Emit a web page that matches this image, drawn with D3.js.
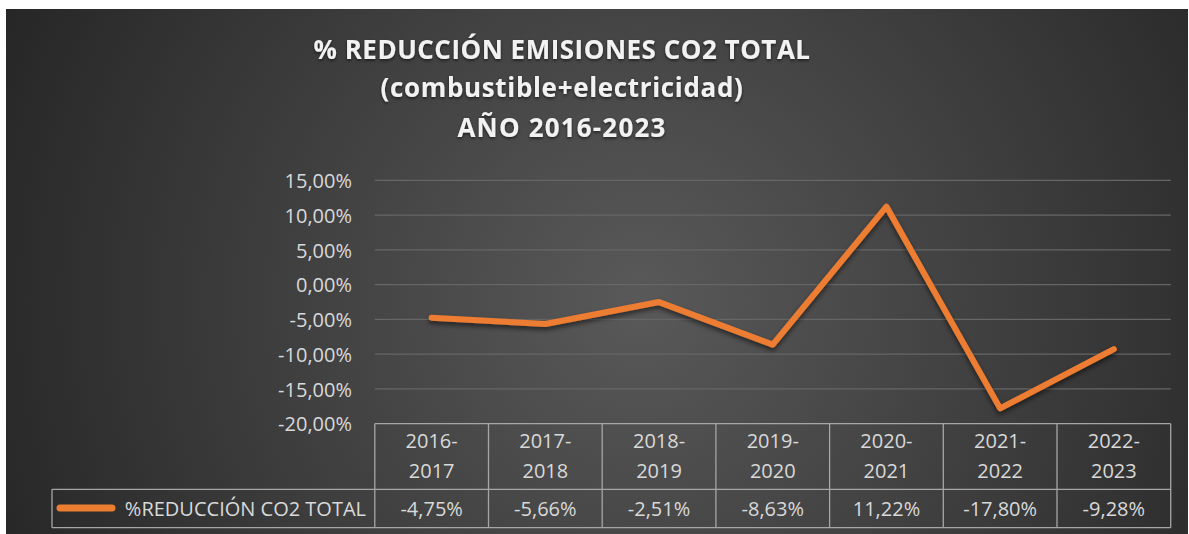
<!DOCTYPE html>
<html>
<head>
<meta charset="utf-8">
<script src="https://cdn.jsdelivr.net/npm/d3@7"></script>
<style>
  html, body { margin: 0; padding: 0; background: #ffffff; }
  svg { display: block; }
</style>
</head>
<body>
<svg id="chart" width="1189" height="534"></svg>
<script>
// Series and labels
const categories = ["2016-2017", "2017-2018", "2018-2019", "2019-2020", "2020-2021", "2021-2022", "2022-2023"];
const reduction = [-4.75, -5.66, -2.51, -8.63, 11.22, -17.80, -9.28];
const yTicks = [15, 10, 5, 0, -5, -10, -15, -20];
const titleLines = ["% REDUCCIÓN EMISIONES CO2 TOTAL", "(combustible+electricidad)", "AÑO 2016-2023"];
const seriesName = "%REDUCCIÓN CO2 TOTAL";

// Spanish style percentage: comma decimal, plain hyphen for negatives
const fmt = v => (v < 0 ? "-" : "") + Math.abs(v).toFixed(2).replace(".", ",") + "%";

const svg = d3.select("#chart");
const defs = svg.append("defs");

const grad = defs.append("radialGradient")
  .attr("id", "bg").attr("gradientUnits", "userSpaceOnUse")
  .attr("cx", 640).attr("cy", 300).attr("r", 700);
grad.append("stop").attr("offset", "0").attr("stop-color", "#595959");
grad.append("stop").attr("offset", "1").attr("stop-color", "#262626");

const shadow = defs.append("filter").attr("id", "lineShadow")
  .attr("x", "-10%").attr("y", "-10%").attr("width", "120%").attr("height", "130%");
shadow.append("feDropShadow").attr("dx", 0).attr("dy", 3).attr("stdDeviation", 2.5)
  .attr("flood-color", "#000").attr("flood-opacity", 0.55);

const tShadow = defs.append("filter").attr("id", "textShadow")
  .attr("x", "-5%").attr("y", "-20%").attr("width", "110%").attr("height", "150%");
tShadow.append("feDropShadow").attr("dx", 0).attr("dy", 1.5).attr("stdDeviation", 1.5)
  .attr("flood-color", "#000").attr("flood-opacity", 0.6);

// Panel
svg.append("rect").attr("x", 6).attr("y", 9).attr("width", 1182).attr("height", 525)
  .attr("fill", "url(#bg)");

const font = "'Open Sans', sans-serif";
const textColor = "#d9d9d9";
const labelSize = 20;

// Title, spaced out to its set width
const titleSizes = [{ y: 59, w: 497 }, { y: 97, w: 363 }, { y: 136.5, w: 209 }];
const title = svg.append("g").attr("filter", "url(#textShadow)");
titleLines.forEach((t, i) => {
  const el = title.append("text")
    .attr("x", 562).attr("y", titleSizes[i].y)
    .attr("text-anchor", "middle")
    .attr("font-family", font).attr("font-weight", 700).attr("font-size", 26)
    .attr("fill", "#f2f2f2")
    .text(t);
  const natural = el.node().getComputedTextLength();
  const ls = (titleSizes[i].w - natural) / t.length;
  el.attr("letter-spacing", ls.toFixed(2));
});

// Scales
const plotLeft = 374.8, plotRight = 1170.7;
const x = d3.scaleBand().domain(categories).range([plotLeft, plotRight]).padding(0);
const y = d3.scaleLinear().domain([-20, 15]).range([423.7, 180.3]);

// Gridlines
svg.append("g")
  .selectAll("line").data(yTicks.filter(d => d > -20)).join("line")
  .attr("x1", plotLeft).attr("x2", plotRight)
  .attr("y1", d => y(d)).attr("y2", d => y(d))
  .attr("stroke", "#666666").attr("stroke-width", 1.2);

// Y axis
const yAxis = svg.append("g").attr("transform", `translate(352,0)`)
  .call(d3.axisLeft(y).tickValues(yTicks).tickSize(0).tickPadding(0).tickFormat(fmt));
yAxis.select(".domain").remove();
yAxis.selectAll("text")
  .attr("font-family", font).attr("font-size", labelSize).attr("fill", textColor)
  .attr("dy", "0.36em");

// Line
const line = d3.line().x((d, i) => x(categories[i]) + x.bandwidth() / 2).y(d => y(d));
svg.append("path").datum(reduction)
  .attr("d", line)
  .attr("fill", "none").attr("stroke", "#ed7d31").attr("stroke-width", 6)
  .attr("stroke-linejoin", "round").attr("stroke-linecap", "round")
  .attr("filter", "url(#lineShadow)");

// Data table
const tTop = y(-20), tMid = 489.3, tBot = 527.7, legendLeft = 52;
const tableColor = "#a6a6a6";
const table = svg.append("g").attr("stroke", tableColor).attr("stroke-width", 1.3).attr("fill", "none");
table.append("line").attr("x1", plotLeft).attr("x2", plotRight).attr("y1", tTop).attr("y2", tTop);
table.append("line").attr("x1", legendLeft).attr("x2", plotRight).attr("y1", tMid).attr("y2", tMid);
table.append("line").attr("x1", legendLeft).attr("x2", plotRight).attr("y1", tBot).attr("y2", tBot);
table.append("line").attr("x1", legendLeft).attr("x2", legendLeft).attr("y1", tMid).attr("y2", tBot);
table.selectAll("line.v").data(d3.range(categories.length + 1)).join("line")
  .attr("class", "v")
  .attr("x1", i => plotLeft + i * x.step()).attr("x2", i => plotLeft + i * x.step())
  .attr("y1", tTop).attr("y2", tBot);

const cells = svg.append("g").attr("font-family", font).attr("font-size", labelSize)
  .attr("fill", textColor).attr("text-anchor", "middle");
categories.forEach((c, i) => {
  const cx = x(c) + x.bandwidth() / 2;
  const parts = c.split("-");
  cells.append("text").attr("x", cx).attr("y", 448).text(parts[0] + "-");
  cells.append("text").attr("x", cx).attr("y", 478).text(parts[1]);
  cells.append("text").attr("x", cx).attr("y", 516).text(fmt(reduction[i]));
});

// Legend key
svg.append("line").attr("x1", 60).attr("x2", 112).attr("y1", 508).attr("y2", 508)
  .attr("stroke", "#ed7d31").attr("stroke-width", 7).attr("stroke-linecap", "round");
svg.append("text").attr("x", 366).attr("y", 516).attr("text-anchor", "end")
  .attr("font-family", font).attr("font-size", labelSize).attr("fill", textColor)
  .text(seriesName);
</script>
</body>
</html>
